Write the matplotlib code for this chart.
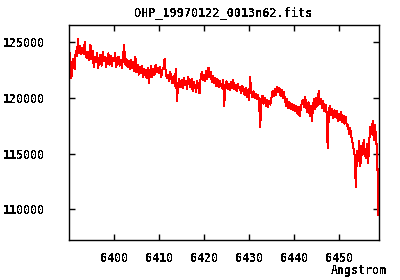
import numpy as np
import matplotlib
matplotlib.use("Agg")
import matplotlib.pyplot as plt

# Spectrum: start wavelength, step (Angstrom) and flux values
wave_start = 6390.0
wave_step = 0.25
flux = [
    123300, 124000, 121800, 122600,
    123500, 122600, 124200, 123800,
    125300, 124000, 124700, 123900,
    124500, 123900, 125000, 123700,
    123600, 124100, 123400, 124800,
    123500, 124200, 122800, 123700,
    123200, 124000, 122700, 123600,
    123900, 122900, 124100, 123300,
    123700, 122800, 123500, 124000,
    123000, 123800, 122900, 123600,
    123300, 124000, 122800, 123500,
    123700, 122900, 123400, 122700,
    123600, 124800, 123000, 123500,
    122800, 123300, 122600, 123400,
    122700, 123200, 122400, 123700,
    122300, 123000, 122100, 122800,
    122200, 122900, 121900, 122600,
    122400, 121800, 122700, 121300,
    122300, 122900, 121900, 122600,
    122100, 123000, 122300, 122700,
    122200, 122800, 121900, 122500,
    122700, 123500, 122300, 121800,
    122100, 121500, 122300, 121700,
    121300, 122000, 121100, 122600,
    119700, 121200, 121700, 121000,
    121600, 120900, 121800, 121200,
    121500, 120800, 121900, 121300,
    121000, 121700, 120600, 121400,
    121100, 120500, 121500, 120900,
    120400, 121800, 122300, 121600,
    122100, 121500, 122400, 121700,
    122700, 121900, 122300, 121400,
    122000, 121300, 121800, 121100,
    121700, 121000, 121500, 121200,
    120900, 121600, 119300, 121200,
    121500, 120800, 121300, 120700,
    121400, 120900, 121600, 120800,
    121200, 120600, 121300, 120900,
    121000, 120400, 121100, 120600,
    120300, 120900, 120100, 120700,
    119800, 121900, 120500, 120100,
    120600, 120000, 120400, 119900,
    120300, 119700, 117400, 119900,
    120200, 119500, 120000, 119300,
    119800, 119200, 119700, 119400,
    120000, 120600, 120200, 120800,
    120300, 121000, 120500, 120900,
    120200, 120700, 120000, 120500,
    119800, 119300, 119900, 119100,
    119600, 119000, 119500, 118900,
    119400, 118800, 119300, 118600,
    119200, 118400, 119000, 119600,
    119800, 119200, 120100, 119100,
    118700, 119600, 118400, 119300,
    117900, 119400, 119900, 119000,
    120000, 119300, 120600, 119500,
    119900, 119100, 119700, 118800,
    119400, 118700, 115500, 118900,
    119300, 118500, 119000, 118200,
    118900, 118300, 118800, 117900,
    118600, 118000, 118700, 117800,
    118400, 117700, 118300, 117500,
    117600, 116800, 117300, 116500,
    116000, 115400, 114800, 112000,
    115200, 114300, 116100, 113900,
    115700, 114900, 116200, 115100,
    114600, 115900, 114200, 116300,
    117400, 116800, 117900, 116200,
    117600, 116400, 115100, 109500,
]
x_ticks = [6400, 6410, 6420, 6430, 6440, 6450]
y_ticks = [110000, 115000, 120000, 125000]
x_limits = (6390.0, 6458.9)
y_limits = (107250, 126550)
title = "OHP_19970122_0013n62.fits"
x_label = "Angstrom"

wave = wave_start + wave_step * np.arange(len(flux))

plt.rcParams['font.family'] = ['DejaVu Sans Mono']
plt.rcParams['font.weight'] = 'bold'
plt.rcParams['text.antialiased'] = False

fig = plt.figure(figsize=(4.0, 2.8), dpi=100)
ax = fig.add_axes([69/400, 40/280, 310/400, 215/280])
ax.plot(wave, flux, color='#ff0000', linewidth=0.75, antialiased=False)
ax.set_xlim(*x_limits)
ax.set_ylim(*y_limits)
ax.set_xticks(x_ticks)
ax.set_yticks(y_ticks)
ax.set_xticklabels([str(v) for v in x_ticks], fontsize=8.4, fontweight='bold')
ax.set_yticklabels([str(v) for v in y_ticks], fontsize=8.4, fontweight='bold')
ax.tick_params(direction='in', length=4, width=1, top=True, right=True,
               labeltop=False, labelright=False)
ax.tick_params(axis='x', pad=8.5)
ax.tick_params(axis='y', pad=17.5)
for s in ax.spines.values():
    s.set_linewidth(1.0)
    s.set_color('black')

fig.text(224/400, 1 - 13/280, title, ha='center', va='center', fontsize=8.6, fontweight='bold')
fig.text(387/400, 3/280, x_label, ha='right', va='bottom', fontsize=8.4, fontweight='bold')

fig.savefig('out.png', dpi=100)
